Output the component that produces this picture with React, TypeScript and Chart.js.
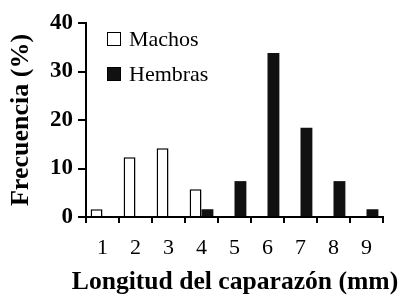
import React, { useEffect, useRef } from "react";
import { Chart, registerables } from "chart.js";

Chart.register(...registerables);

const categories = ["1", "2", "3", "4", "5", "6", "7", "8", "9"];
const machos = [1.6, 12.3, 14.2, 5.7, null, null, null, null, null];
const hembras = [null, null, null, 1.6, 7.4, 33.8, 18.4, 7.4, 1.6];
const yTicks = [0, 10, 20, 30, 40];
const seriesNames = ["Machos", "Hembras"];
const xTitle = "Longitud del caparazón (mm)";
const yTitle = "Frecuencia (%)";

const SERIF = "'Liberation Serif', 'Times New Roman', serif";

const legendPlugin = {
  id: "insideLegend",
  afterDraw(chart: any) {
    const { ctx, chartArea } = chart;
    ctx.save();
    chart.data.datasets.forEach((ds: any, i: number) => {
      const bx = chartArea.left + 21;
      const cy = chartArea.top + 16 + i * 35;
      ctx.fillStyle = ds.backgroundColor;
      ctx.fillRect(bx, cy - 7, 14, 14);
      ctx.strokeStyle = "#000";
      ctx.lineWidth = 1;
      ctx.strokeRect(bx + 0.5, cy - 6.5, 13, 13);
      ctx.fillStyle = "#000";
      ctx.font = `22px ${SERIF}`;
      ctx.textBaseline = "middle";
      ctx.textAlign = "left";
      ctx.fillText(ds.label, bx + 22, cy + 1);
    });
    // x axis title (drawn wider than the chart area, as in the reference)
    ctx.font = `bold 25.6px ${SERIF}`;
    ctx.textAlign = "center";
    ctx.textBaseline = "alphabetic";
    ctx.fillText(xTitle, (chartArea.left + chartArea.right) / 2 + 0.5, 289);
    ctx.restore();
  },
};

export default function App() {
  const ref = useRef<HTMLCanvasElement>(null);
  useEffect(() => {
    document.body.style.margin = "0";
    const chart = new Chart(ref.current!, {
      type: "bar",
      data: {
        labels: categories,
        datasets: [
          {
            label: seriesNames[0],
            data: machos,
            backgroundColor: "#ffffff",
            borderColor: "#000000",
            borderWidth: 1.5,
            categoryPercentage: 0.72,
            barPercentage: 1,
          },
          {
            label: seriesNames[1],
            data: hembras,
            backgroundColor: "#111111",
            borderColor: "#111111",
            borderWidth: 0,
            categoryPercentage: 0.72,
            barPercentage: 1,
          },
        ],
      },
      options: {
        animation: false,
        responsive: false,
        maintainAspectRatio: false,
        layout: { padding: { left: 0, top: 23, right: 22, bottom: 0 } },
        plugins: { legend: { display: false }, tooltip: { enabled: false } },
        scales: {
          x: {
            type: "category",
            offset: true,
            grid: {
              offset: true,
              display: true,
              drawOnChartArea: false,
              drawTicks: true,
              tickLength: 6,
              color: "#000",
              lineWidth: 2,
            },
            border: { display: true, color: "#000", width: 2 },
            ticks: {
              color: "#000",
              font: { family: SERIF, size: 22 },
              padding: 12,
              maxRotation: 0,
            },
            title: { display: false, text: xTitle },
            afterFit: (s: any) => {
              s.height = 83;
            },
          },
          y: {
            min: 0,
            max: 40,
            afterBuildTicks: (s: any) => {
              s.ticks = yTicks.map((v) => ({ value: v }));
            },
            grid: {
              display: true,
              drawOnChartArea: false,
              drawTicks: true,
              tickLength: 8,
              color: "#000",
              lineWidth: 2,
            },
            border: { display: true, color: "#000", width: 2 },
            ticks: {
              color: "#000",
              font: { family: SERIF, size: 23, weight: "bold" },
              padding: 5,
            },
            title: {
              display: true,
              text: yTitle,
              color: "#000",
              font: { family: SERIF, size: 26, weight: "bold" },
              padding: { top: 6, bottom: 0 },
            },
            afterFit: (s: any) => {
              s.width = 86;
            },
          },
        },
      },
      plugins: [legendPlugin],
    });
    return () => chart.destroy();
  }, []);
  return (
    <div style={{ width: 405, height: 300 }}>
      <canvas ref={ref} width={405} height={300} style={{ width: 405, height: 300 }} />
    </div>
  );
}
